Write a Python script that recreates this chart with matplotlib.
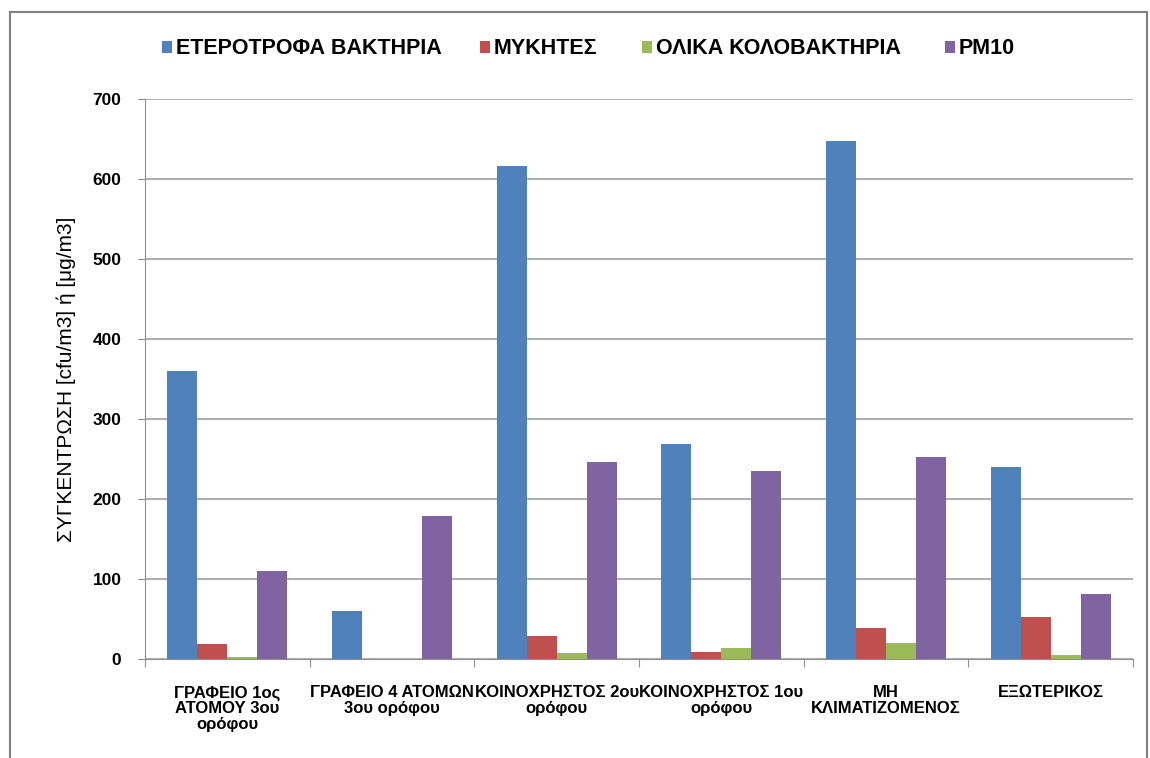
import matplotlib
matplotlib.use("Agg")
import matplotlib.pyplot as plt
import numpy as np
from matplotlib.patches import Rectangle

categories = ["ΓΡΑΦΕΙΟ 1ος\nΑΤΟΜΟΥ 3ου\nορόφου",
              "ΓΡΑΦΕΙΟ 4 ΑΤΟΜΩΝ\n3ου ορόφου",
              "ΚΟΙΝΟΧΡΗΣΤΟΣ 2ου\nορόφου",
              "ΚΟΙΝΟΧΡΗΣΤΟΣ 1ου\nορόφου",
              "ΜΗ\nΚΛΙΜΑΤΙΖΟΜΕΝΟΣ",
              "ΕΞΩΤΕΡΙΚΟΣ"]
series_names = ["ΕΤΕΡΟΤΡΟΦΑ ΒΑΚΤΗΡΙΑ", "ΜΥΚΗΤΕΣ", "ΟΛΙΚΑ ΚΟΛΟΒΑΚΤΗΡΙΑ", "PM10"]
heterotrophic = [360, 60, 616, 269, 647, 240]
fungi = [19, 0, 29, 9, 39, 53]
coliforms = [2, 0, 7, 14, 20, 5]
pm10 = [110, 179, 246, 235, 253, 81]
colors = ["#4F81BD", "#C0504D", "#9BBB59", "#8064A2"]

font = ["Liberation Sans", "DejaVu Sans"]
plt.rcParams["font.family"] = font

fig = plt.figure(figsize=(11.5, 7.58), dpi=100)
ax = fig.add_axes([145/1150, 99/758, (1133-145)/1150, 560/758])

x = np.arange(len(categories))
w = 1 / 5.5
bars = []
for i, vals in enumerate([heterotrophic, fungi, coliforms, pm10]):
    bars.append(ax.bar(x + (i - 1.5) * w, vals, width=w, color=colors[i], label=series_names[i]))

ax.set_xlim(-0.5, len(categories) - 0.5)
ax.set_ylim(0, 700)
ax.set_yticks(range(0, 701, 100))
ax.yaxis.grid(True, color="#a0a0a0", linewidth=1.2)
ax.set_axisbelow(True)
for s in ["top", "right"]:
    ax.spines[s].set_visible(False)
ax.spines["left"].set_color("#909090")
ax.spines["bottom"].set_color("#909090")
ax.tick_params(axis="y", length=5, color="#909090", labelsize=12.5, pad=12)
for t in ax.get_yticklabels():
    t.set_fontweight("bold")
ax.set_xticks(np.arange(-0.5, len(categories)), minor=False)
ax.set_xticklabels([""] * (len(categories) + 1))
ax.tick_params(axis="x", length=6, color="#909090")
ax.set_xticks(x, minor=True)
ax.set_xticklabels(categories, minor=True, fontweight="bold", fontsize=12)
ax.tick_params(axis="x", which="minor", length=0, pad=19)
for t in ax.get_xticklabels(minor=True):
    t.set_linespacing(1.05)
ax.set_ylabel("ΣΥΓΚΕΝΤΡΩΣΗ [cfu/m3] ή [μg/m3]", fontsize=15, labelpad=12)

# legend entries placed individually, as in the original
legend_x = [162, 480, 642, 945]
for b, name, lx in zip(bars, series_names, legend_x):
    fig.legend([b], [name], loc="center left", bbox_to_anchor=(lx/1150, 1 - 49/758),
               frameon=False, handlelength=0.45, handleheight=0.45, handletextpad=0.2,
               borderpad=0, borderaxespad=0,
               prop={"weight": "bold", "size": 15.5})

fig.patches.append(Rectangle((10/1150, -0.01), 1137/1150, 1 - 12/758 + 0.01,
                             transform=fig.transFigure, fill=False,
                             edgecolor="#808080", linewidth=1.5))

fig.savefig("out.png", dpi=100)
